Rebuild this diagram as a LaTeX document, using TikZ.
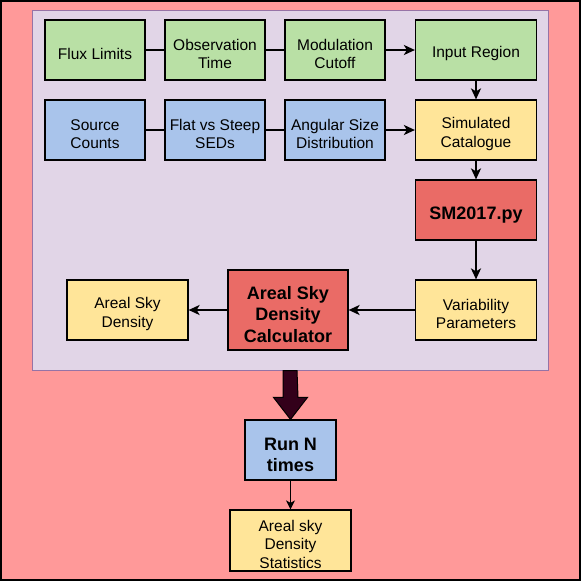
\documentclass[tikz,border=0pt]{standalone}
\usepackage{fontspec}
\setmainfont{Liberation Sans}
\usetikzlibrary{arrows.meta,calc}
\definecolor{pagebg}{HTML}{FF9999}
\definecolor{panelfill}{HTML}{E1D5E7}
\definecolor{paneldraw}{HTML}{9673A6}
\definecolor{boxgreen}{HTML}{B9E0A5}
\definecolor{boxblue}{HTML}{A9C4EB}
\definecolor{boxyellow}{HTML}{FFE599}
\definecolor{boxred}{HTML}{EA6B66}
\definecolor{bigarrowfill}{HTML}{33001A}

\begin{document}
\begin{tikzpicture}[x=1pt,y=-1pt,
  lines/.code={\def\lineraise{\dimexpr19pt+18.5pt*(#1-1)\relax}},
  boldlines/.code={\def\lineraise{\dimexpr22pt+21.5pt*(#1-1)\relax}},
  box/.style={draw,line width=1.2pt,align=center,inner sep=0pt,
    minimum width=#1,minimum height=60pt,
    font=\fontsize{15.5}{18.5}\selectfont,lines=2,
    execute at begin node={\rule{0pt}{\lineraise}}},
  box/.default=100pt,
  greenbox/.style={box=#1,fill=boxgreen},
  greenbox/.default=100pt,
  bluebox/.style={box=#1,fill=boxblue},
  bluebox/.default=100pt,
  yellowbox/.style={box=#1,fill=boxyellow},
  yellowbox/.default=121pt,
  boldtext/.style={font=\fontsize{18}{21.5}\selectfont\bfseries},
  redbox/.style={box=#1,fill=boxred,boldtext},
  redbox/.default=121pt,
  link/.style={line width=2pt},
  arr/.style={line width=2pt,-{Stealth[length=11pt,width=10pt,inset=3pt]}},
  bigarrow/.style={fill=bigarrowfill,draw=black,line width=1pt,line join=miter}]
\useasboundingbox (0,0) rectangle (581,581);
\draw[fill=pagebg,line width=2pt] (1,1) rectangle (580,580);
\node[draw=paneldraw,fill=panelfill,line width=1pt,minimum width=516pt,minimum height=360pt,inner sep=0pt] (panel) at (290,190) {};

% first row
\node[greenbox,lines=1] (flux) at (95,50) {Flux Limits};
\node[greenbox] (obs) at (215,50) {Observation\\Time};
\node[greenbox] (mod) at (335,50) {Modulation\\Cutoff};
\node[greenbox=121pt,lines=1] (input) at (476,50) {Input Region};

% second row
\node[bluebox] (counts) at (95,130) {Source\\Counts};
\node[bluebox] (seds) at (215,130) {Flat vs Steep\\SEDs};
\node[bluebox] (angsize) at (335,130) {Angular Size\\Distribution};
\node[yellowbox] (simcat) at (476,130) {Simulated\\Catalogue};

\node[redbox,boldlines=1] (sm) at (476,210) {SM2017.py};

% bottom row
\node[yellowbox] (areal) at (127.5,310) {Areal Sky\\Density};
\node[redbox=120pt,minimum height=80pt,boldlines=3] (calc) at (288,310) {Areal Sky\\Density\\Calculator};
\node[yellowbox] (var) at (476,310) {Variability\\Parameters};

\node[bluebox=91pt,boldtext,boldlines=2] (run) at (290.5,450) {Run N\\times};
\node[yellowbox,minimum height=61pt,lines=3] (stats) at (290.5,540.5) {Areal sky\\Density\\Statistics};

\draw[link] (flux) -- (obs);
\draw[link] (obs) -- (mod);
\draw[arr] (mod) -- (input);
\draw[link] (counts) -- (seds);
\draw[link] (seds) -- (angsize);
\draw[arr] (angsize) -- (simcat);
\draw[arr] (input) -- (simcat);
\draw[arr] (simcat) -- (sm);
\draw[arr] (sm) -- (var);
\draw[arr] (var) -- (calc);
\draw[arr] (calc) -- (areal);
\draw[line width=1.2pt,-{Stealth[length=9pt,width=9pt,inset=2.5pt]}] (run) -- (stats);

% big arrow out of the panel
\draw[bigarrow] ($(panel.south)+(-7,0)$) -- ($(run.north)+(-7.5,-22)$)
  -- ($(run.north)+(-17,-22)$) -- (run.north) -- ($(run.north)+(17,-22)$)
  -- ($(run.north)+(7.5,-22)$) -- ($(panel.south)+(7,0)$) -- cycle;
\end{tikzpicture}
\end{document}
